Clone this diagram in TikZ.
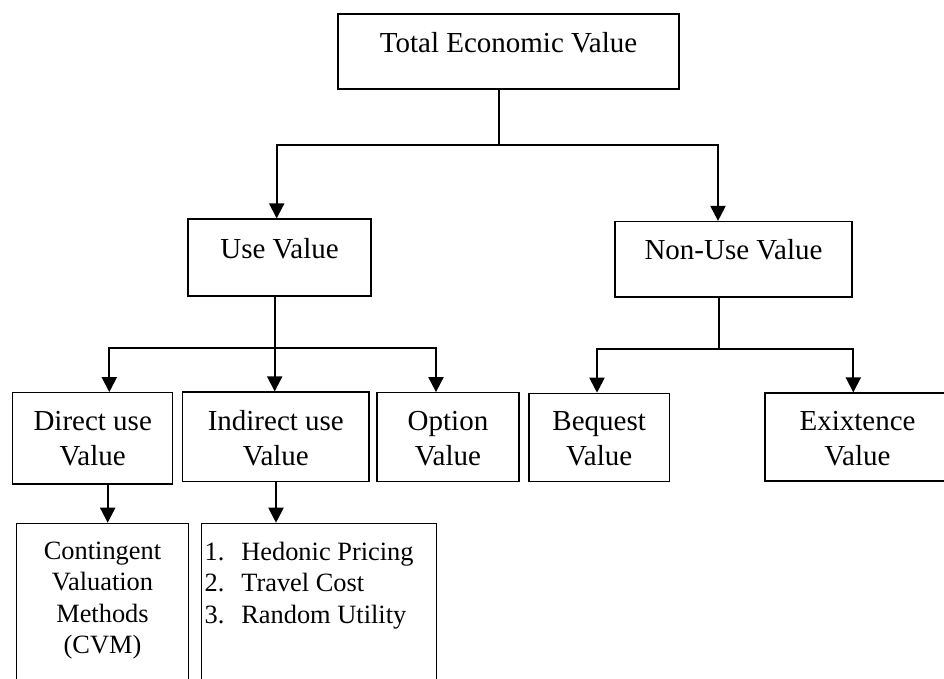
\documentclass[tikz,border=0pt]{standalone}
\usepackage{fontspec}
\setmainfont{Liberation Serif}
\usetikzlibrary{arrows.meta}
\begin{document}
\begin{tikzpicture}[x=1pt,y=-1pt,
  vbox/.style={draw, line width=1.2pt, inner sep=0pt, anchor=base, font=\fontsize{29}{34.3}\selectfont},
  tight/.style={font=\fontsize{26.4}{31.5}\selectfont},
  conn/.style={line width=2pt},
  arr/.style={line width=2pt, -{Triangle[length=15pt,width=15pt]}}]
\useasboundingbox (0,0) rectangle (944,678);
\clip (0,0) rectangle (944,678);
\fill[white] (0,0) rectangle (944,678);

% boxes
\node[vbox, minimum width=341pt, text height=38pt, text depth=37pt] (tev) at (508.5,52) {Total Economic Value};
\node[vbox, minimum width=183pt, text height=39pt, text depth=38pt] (use) at (279.5,258) {Use Value};
\node[vbox, minimum width=237pt, text height=37.5pt, text depth=38pt] (nonuse) at (733.5,259) {Non-Use Value};

\node[vbox, minimum width=160pt, text height=38pt, text depth=53.3pt] (direct) at (92.7,430.7)
  {\begin{tabular}[t]{@{}c@{}}Direct use\\Value\end{tabular}};
\node[vbox, minimum width=186.3pt, text height=38.7pt, text depth=51pt] (indirect) at (275.8,430.7)
  {\begin{tabular}[t]{@{}c@{}}Indirect use\\Value\end{tabular}};
\node[vbox, minimum width=142pt, text height=38pt, text depth=51pt] (option) at (448,430.7)
  {\begin{tabular}[t]{@{}c@{}}Option\\Value\end{tabular}};
\node[vbox, minimum width=140.3pt, text height=37.4pt, text depth=51pt] (bequest) at (599.2,430.7)
  {\begin{tabular}[t]{@{}c@{}}Bequest\\Value\end{tabular}};
\node[vbox, minimum width=185pt, text height=37.7pt, text depth=50.3pt] (exist) at (857.5,430.7)
  {\begin{tabular}[t]{@{}c@{}}Exixtence\\Value\end{tabular}};

\node[vbox, tight, minimum width=171.6pt, text height=35.7pt, text depth=150pt] (cvm) at (102.5,559)
  {\begin{tabular}[t]{@{}c@{}}Contingent\\Valuation\\Methods\\(CVM)\end{tabular}};
\node[vbox, tight, anchor=base west, text height=36.7pt, text depth=150pt] (list) at (201,560)
  {\makebox[235pt][l]{\hspace{3pt}\begin{tabular}[t]{@{}l@{}}\makebox[36.7pt][l]{1.}Hedonic Pricing\\\makebox[36.7pt][l]{2.}Travel Cost\\\makebox[36.7pt][l]{3.}Random Utility\end{tabular}}};

% connectors
\coordinate (a1) at (499,145);
\coordinate (aL) at (276.7,145);
\coordinate (aR) at (718,145);
\draw[conn] (a1 |- tev.south) -- (a1);
\draw[arr] (a1) -- (aL) -- (aL |- use.north);
\draw[arr] (a1) -- (aR) -- (aR |- nonuse.north);

\coordinate (b1) at (274.7,347.5);
\coordinate (bL) at (109.3,347.5);
\coordinate (bR) at (436,347.5);
\draw[conn] (b1 |- use.south) -- (b1);
\draw[arr] (b1) -- (bL) -- (bL |- direct.north);
\draw[arr] (b1) -- (b1 |- indirect.north);
\draw[arr] (b1) -- (bR) -- (bR |- option.north);

\coordinate (c1) at (718.5,349.3);
\coordinate (cL) at (597,349.3);
\coordinate (cR) at (853.3,349.3);
\draw[conn] (c1 |- nonuse.south) -- (c1);
\draw[arr] (c1) -- (cL) -- (cL |- bequest.north);
\draw[arr] (c1) -- (cR) -- (cR |- exist.north);

\coordinate (d1) at (107.7,500);
\coordinate (e1) at (276,500);
\draw[arr] (d1 |- direct.south) -- (d1 |- cvm.north);
\draw[arr] (e1 |- indirect.south) -- (e1 |- list.north);
\end{tikzpicture}
\end{document}
